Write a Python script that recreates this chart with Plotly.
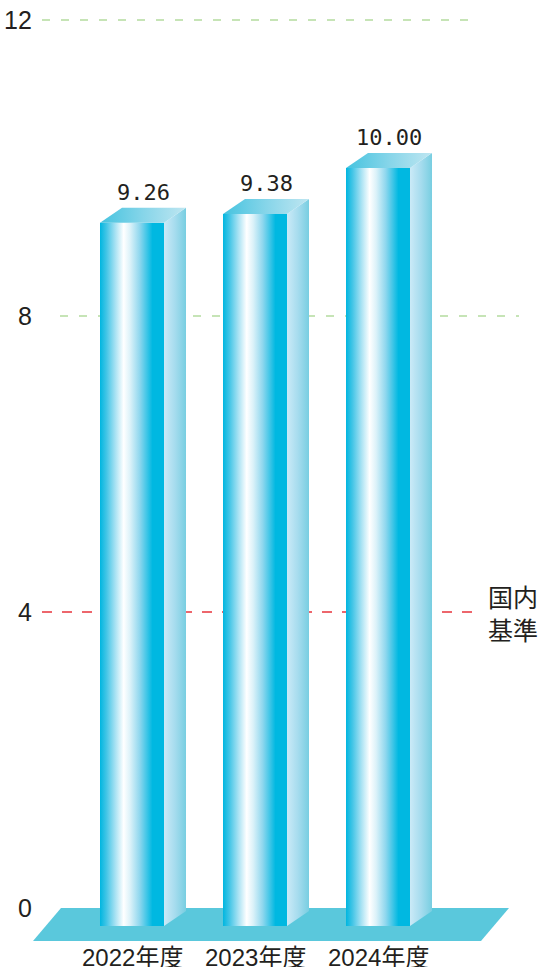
import plotly.graph_objects as go

# ---- data ----
years = ["2022年度", "2023年度", "2024年度"]
ratios = [9.26, 9.38, 10.00]
value_labels = ["9.26", "9.38", "10.00"]
y_ticks = [0, 4, 8, 12]
benchmark = 4
benchmark_label = "国内<br>基準"

# ---- canvas / geometry ----
W, H = 542, 967
PX_X = 123.0          # pixels per category step
PX_Y = 74.0           # pixels per ratio unit
X0_PX = 132.0         # pixel x of first category
Y0_PX = 908.0         # pixel y of zero

x_range = [-X0_PX / PX_X, (W - X0_PX) / PX_X]
y_range = [-(H - Y0_PX) / PX_Y, Y0_PX / PX_Y]

half_w = 32 / PX_X          # half width of front face
depth_x = 22 / PX_X         # 3-D depth offset
depth_y = 15 / PX_Y
front_base = -18 / PX_Y     # front face drops below the zero plane

FONT_NUM = "Liberation Sans Narrow, Liberation Sans, Noto Sans CJK JP, sans-serif"
FONT_VAL = "DejaVu Sans Mono, monospace"
TXT = "#231f20"

front_scale = [[0.0, "#00b6e0"], [0.10, "#42c5e6"], [0.24, "#a8e2f3"],
               [0.37, "#ffffff"], [0.47, "#dcf2f9"], [0.62, "#8fd7ee"],
               [0.82, "#00b8e1"], [1.0, "#00b8e1"]]
side_scale = [[0.0, "#cbeaf7"], [0.5, "#a6dcee"], [1.0, "#78cee1"]]
top_scale = [[0.0, "#45c3df"], [0.5, "#86d5e9"], [1.0, "#bfe6f1"]]
floor_color = "#5ac8dc"

fig = go.Figure()


def poly(xs, ys, scale=None, color=None):
    kw = dict(x=xs + [xs[0]], y=ys + [ys[0]], mode="lines", fill="toself",
              line=dict(width=0), hoverinfo="skip", showlegend=False)
    if scale is not None:
        kw["fillgradient"] = dict(type="horizontal", colorscale=scale)
        kw["fillcolor"] = scale[0][1]
    else:
        kw["fillcolor"] = color
    fig.add_trace(go.Scatter(**kw))


# floor plane
cats = list(range(len(years)))
floor_bottom = -33 / PX_Y
fl = cats[0] - 99 / PX_X
fr = cats[-1] + 103 / PX_X
fshift = 28 / PX_X
poly([fl, fr, fr + fshift, fl + fshift], [floor_bottom, floor_bottom, 0, 0], color=floor_color)

# 3-D bars
for i, v in zip(cats, ratios):
    xl, xr = i - half_w, i + half_w
    # front
    poly([xl, xr, xr, xl], [front_base, front_base, v, v], scale=front_scale)
    # side
    poly([xr, xr + depth_x, xr + depth_x, xr],
         [front_base, front_base + depth_y, v + depth_y, v], scale=side_scale)
    # top
    poly([xl, xr, xr + depth_x, xl + depth_x],
         [v, v, v + depth_y, v + depth_y], scale=top_scale)

shapes = []
# dashed guide lines (drawn beneath the bars)
grid_extent = {12: (42, 475), 8: (60, 519)}
for t, (a, b) in grid_extent.items():
    shapes.append(dict(type="line", xref="paper", yref="y", x0=a / W, x1=b / W, y0=t, y1=t,
                       line=dict(color="#c6e4b6", width=2, dash="8px,11px"), layer="below"))
shapes.append(dict(type="line", xref="paper", yref="y", x0=42 / W, x1=478 / W,
                   y0=benchmark, y1=benchmark,
                   line=dict(color="#e8343c", width=1.5, dash="10px,10px"), layer="below"))

annotations = []
# y tick labels
for t in y_ticks:
    annotations.append(dict(xref="paper", yref="y", x=34 / W, y=t, text=str(t),
                            xanchor="right", yanchor="middle", showarrow=False,
                            font=dict(family=FONT_NUM, size=25, color=TXT)))
# category labels
for i, name in zip(cats, years):
    annotations.append(dict(xref="x", yref="y", x=i, y=-49 / PX_Y, text=name,
                            xanchor="center", yanchor="middle", showarrow=False,
                            font=dict(family=FONT_NUM, size=24, color=TXT)))
# value labels
for i, v, s in zip(cats, ratios, value_labels):
    annotations.append(dict(xref="x", yref="y", x=i + depth_x / 2, y=v + depth_y, text=s,
                            xanchor="center", yanchor="bottom", yshift=1, showarrow=False,
                            font=dict(family=FONT_VAL, size=22, color=TXT)))
# benchmark label
annotations.append(dict(xref="paper", yref="y", x=486 / W, y=benchmark, text=benchmark_label,
                        xanchor="left", yanchor="middle", showarrow=False, align="left",
                        font=dict(family="Noto Sans CJK JP", size=25, color=TXT)))

fig.update_layout(
    width=W, height=H,
    margin=dict(l=0, r=0, t=0, b=0),
    paper_bgcolor="white", plot_bgcolor="white",
    xaxis=dict(range=x_range, visible=False, fixedrange=True),
    yaxis=dict(range=y_range, visible=False, fixedrange=True),
    shapes=shapes, annotations=annotations,
    showlegend=False,
)

fig.write_html("out.html")
